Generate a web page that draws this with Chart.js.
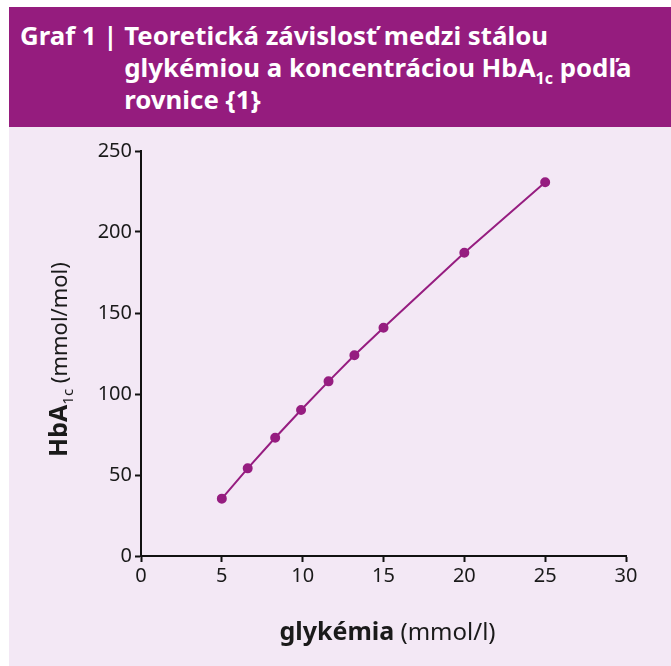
<!DOCTYPE html>
<html>
<head>
<meta charset="utf-8">
<script src="https://cdn.jsdelivr.net/npm/chart.js@4"></script>
<style>
  html, body { margin: 0; padding: 0; background: #fff; }
  body { width: 671px; height: 666px; position: relative; overflow: hidden; font-family: "Noto Sans", sans-serif; }
  #head {
    position: absolute; left: 9px; top: 7px; width: 662px; height: 120px;
    background: #951c7e; color: #fff; font-weight: bold; font-size: 25.8px; line-height: 32px;
    display: flex; box-sizing: border-box; padding: 12px 0 0 11px;
  }
  #head .num { white-space: pre; }
  #head .txt { width: 525px; }
  #head sub { font-size: 16px; vertical-align: -7px; line-height: 0; }
  #panel { position: absolute; left: 9px; top: 127px; width: 662px; height: 539px; background: #f3e8f5; }
</style>
</head>
<body>
<div id="head"><span class="num">Graf 1 | </span><span class="txt">Teoretická závislosť medzi stálou glykémiou a koncentráciou HbA<sub>1c</sub> podľa rovnice {1}</span></div>
<div id="panel"><canvas id="myChart" width="662" height="539"></canvas></div>
<script>
// glykémia (mmol/l) and HbA1c (mmol/mol)
var glykemia = [5, 6.6, 8.3, 9.9, 11.6, 13.2, 15, 20, 25];
var hba1c = [35.4, 54.1, 73.0, 90.1, 107.8, 123.9, 140.9, 187.2, 230.7];
var xTicks = [0, 5, 10, 15, 20, 25, 30];
var yTicks = [0, 50, 100, 150, 200, 250];

var purple = '#961d80';
var font = '"Noto Sans", sans-serif';

// axis titles with bold part + subscript
var axisTitles = {
    id: 'axisTitles',
    afterDraw: function (chart) {
        var c = chart.ctx, a = chart.chartArea;
        c.save();
        c.fillStyle = '#1a1a1a';
        c.textBaseline = 'alphabetic';

        // x title
        var b = 'bold 25px ' + font, n = '24px ' + font;
        c.font = b; var w1 = c.measureText('glykémia').width;
        c.font = n; var w2 = c.measureText(' (mmol/l)').width;
        var x0 = (a.left + a.right) / 2 - (w1 + w2) / 2 + 4;
        var y0 = 513;
        c.font = b; c.fillText('glykémia', x0, y0);
        c.font = n; c.fillText(' (mmol/l)', x0 + w1, y0);

        // y title (rotated)
        var yb = 'bold 25px ' + font, yn = '22px ' + font;
        c.translate(50, (a.top + a.bottom) / 2);
        c.rotate(-Math.PI / 2);
        var s = '15px ' + font;
        c.font = yb; var t1 = c.measureText('HbA').width;
        c.font = s; var t2 = c.measureText('1c').width;
        c.font = yn; var t3 = c.measureText(' (mmol/mol)').width;
        var sx = -(t1 + t2 + t3) / 2 - 6, by = 8;
        c.font = yb; c.fillText('HbA', sx, by);
        c.font = s; c.fillText('1c', sx + t1, by + 6);
        c.font = yn; c.fillText(' (mmol/mol)', sx + t1 + t2, by);
        c.restore();
    }
};

var ctx = document.getElementById('myChart');
var myChart = new Chart(ctx, {
    type: 'line',
    data: {
        datasets: [{
            label: 'HbA1c',
            data: glykemia.map(function (g, i) { return { x: g, y: hba1c[i] }; }),
            borderColor: purple,
            backgroundColor: purple,
            borderWidth: 2,
            pointRadius: 4,
            pointHoverRadius: 4,
            tension: 0
        }]
    },
    options: {
        responsive: false,
        animation: false,
        layout: { padding: { top: 24, right: 45, left: 0, bottom: 0 } },
        plugins: {
            legend: { display: false },
            tooltip: { enabled: false }
        },
        scales: {
            x: {
                type: 'linear',
                min: 0, max: 30,
                afterBuildTicks: function (s) { s.ticks = xTicks.map(function (v) { return { value: v }; }); },
                afterFit: function (s) { s.height = 110; },
                border: { color: '#111', width: 2 },
                grid: { drawOnChartArea: false, color: '#111', tickLength: 6, tickWidth: 2 },
                ticks: { color: '#1a1a1a', font: { family: font, size: 20 }, padding: 2, maxRotation: 0 }
            },
            y: {
                min: 0, max: 250,
                afterBuildTicks: function (s) { s.ticks = yTicks.map(function (v) { return { value: v }; }); },
                afterFit: function (s) { s.width = 132; },
                border: { color: '#111', width: 2 },
                grid: { drawOnChartArea: false, color: '#111', tickLength: 6, tickWidth: 2 },
                ticks: { color: '#1a1a1a', font: { family: font, size: 20 }, padding: 3 }
            }
        }
    },
    plugins: [axisTitles]
});
</script>
</body>
</html>
